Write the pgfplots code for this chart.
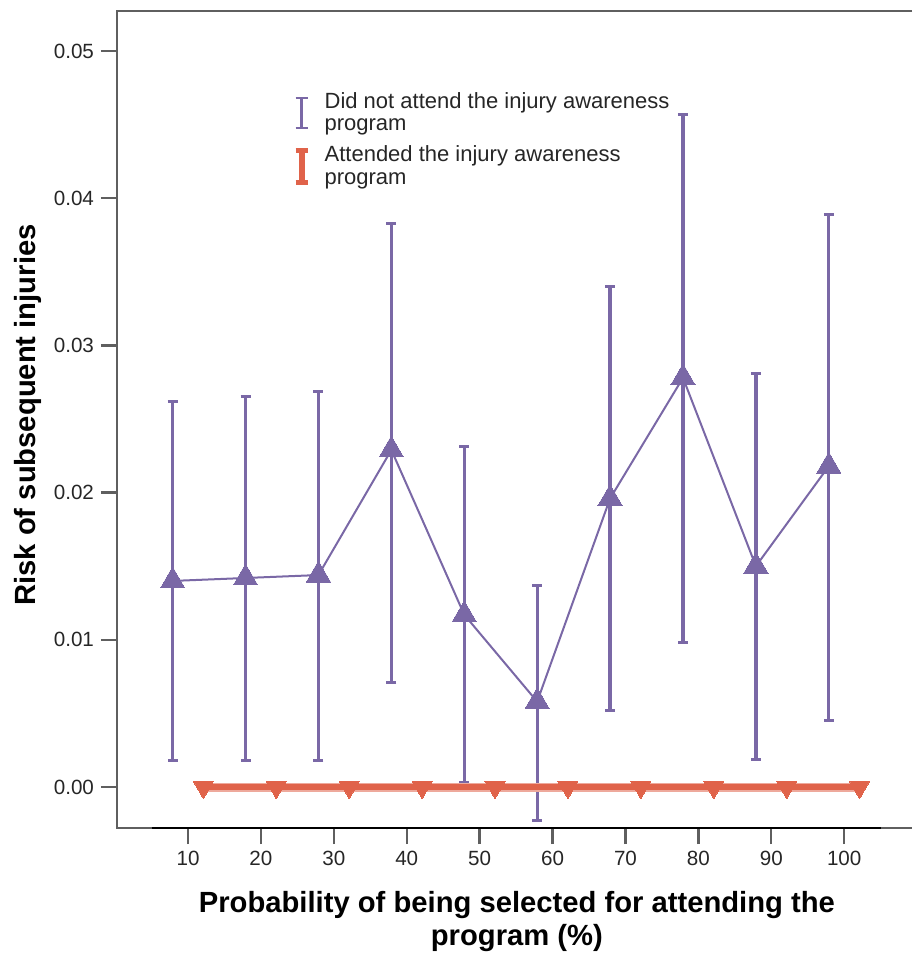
\documentclass[border=0pt]{standalone}
\usepackage{pgfplots}
\pgfplotsset{compat=1.18}
\usepackage{fontspec}
\setmainfont{Liberation Sans}
\definecolor{pur}{HTML}{7A68A6}
\definecolor{ora}{HTML}{E0634A}
\definecolor{frm}{HTML}{5F5F5F}

\pgfplotstableread{
x      y       ep      em
7.89   0.0140  0.0122  0.0122
17.89  0.0142  0.0123  0.0124
27.89  0.0144  0.0125  0.0126
37.89  0.0229  0.0154  0.0158
47.89  0.0117  0.0114  0.0114
57.89  0.0058  0.0079  0.0081
67.89  0.0196  0.0144  0.0144
77.89  0.0278  0.0179  0.0180
87.89  0.0150  0.0131  0.0131
97.89  0.0218  0.0171  0.0173
}\notattended

\pgfplotstableread{
x       y
12.11   0
22.11   0
32.11   0
42.11   0
52.11   0
62.11   0
72.11   0
82.11   0
92.11   0
102.11  0
}\attended

\begin{document}
\begin{tikzpicture}
\begin{axis}[
  at={(0,0)}, anchor=south west,
  scale only axis, width=397.5pt, height=408.5pt,
  xmin=0.26, xmax=109.3, ymin=-0.002785, ymax=0.05272,
  clip=false,
  axis line style={draw=none},
  xtick={10,20,30,40,50,60,70,80,90,100},
  ytick={0,0.01,0.02,0.03,0.04,0.05},
  xtick pos=bottom, ytick pos=left,
  tick align=outside, major tick length=8pt,
  tick style={frm, line width=1.2pt},
  scaled y ticks=false,
  ticklabel style={font=\fontsize{10.3}{12}\selectfont, text=black!85},
  yticklabel style={/pgf/number format/.cd, fixed, fixed zerofill, precision=2, assume math mode=true},
  xticklabel style={/pgf/number format/assume math mode=true},
  ylabel={Risk of subsequent injuries},
  ylabel style={at={(axis description cs:-0.112,0.5055)}, anchor=center, font=\fontsize{14.6}{17}\selectfont\bfseries},
  xlabel={Probability of being selected for attending the\\program (\%)},
  xlabel style={at={(axis description cs:0.503,-0.1145)}, anchor=center, align=center, font=\fontsize{14.6}{16.5}\selectfont\bfseries},
  legend style={at={(axis description cs:0.2135,0.911)}, anchor=north west, draw=none, fill=none,
    font=\fontsize{11}{11.4}\selectfont, text=black!85, row sep=2pt,
    cells={anchor=west, align=left}},
]
\addplot[pur, line width=1pt, mark=triangle*, mark size=7pt,
  mark options={solid, fill=pur, draw=pur, line width=0pt},
  legend image code/.code={
    \draw[pur, line width=1.2pt] (0.3cm,-7.5pt) -- (0.3cm,7.5pt);
    \draw[pur, line width=1.4pt] (0.3cm-3pt,-7.5pt) -- (0.3cm+3pt,-7.5pt) (0.3cm-3pt,7.5pt) -- (0.3cm+3pt,7.5pt);
    \path[draw=none] (0.3cm+9.5pt,0pt) -- (0.3cm+9.5pt,0pt);
  },
  error bars/.cd, y dir=both, y explicit,
  error bar style={pur, line width=1.6pt},
  error mark options={rotate=90, pur, line width=1.5pt, mark size=2.5pt}]
  table[x=x, y=y, y error plus=ep, y error minus=em] {\notattended};
\addlegendentry{Did not attend the injury awareness\\program}

\addplot[ora!55, line width=4.5pt, forget plot] table[x=x, y=y] {\attended};
\addplot[ora, line width=3pt, mark=triangle*, mark size=5.8pt,
  mark options={rotate=180, fill=ora, draw=ora, line width=0pt},
  legend image code/.code={
    \draw[ora, line width=3pt] (0.3cm,-8pt) -- (0.3cm,8pt);
    \draw[ora, line width=2.5pt] (0.3cm-3pt,-8pt) -- (0.3cm+3pt,-8pt) (0.3cm-3pt,8pt) -- (0.3cm+3pt,8pt);
    \path[draw=none] (0.3cm+9.5pt,0pt) -- (0.3cm+9.5pt,0pt);
  }]
  table[x=x, y=y] {\attended};
\addlegendentry{Attended the injury awareness\\program}

\draw[frm, line width=0.8pt] (rel axis cs:1,1) -- (rel axis cs:0,1) -- (rel axis cs:0,0) -- (rel axis cs:1,0);
\draw[black, line width=1.3pt] (axis cs:5,-0.002785) -- (axis cs:105,-0.002785);
\end{axis}
\pgfresetboundingbox
\path[use as bounding box] (-58.5pt,-62.5pt) rectangle (398pt,414pt);
\end{tikzpicture}
\end{document}
